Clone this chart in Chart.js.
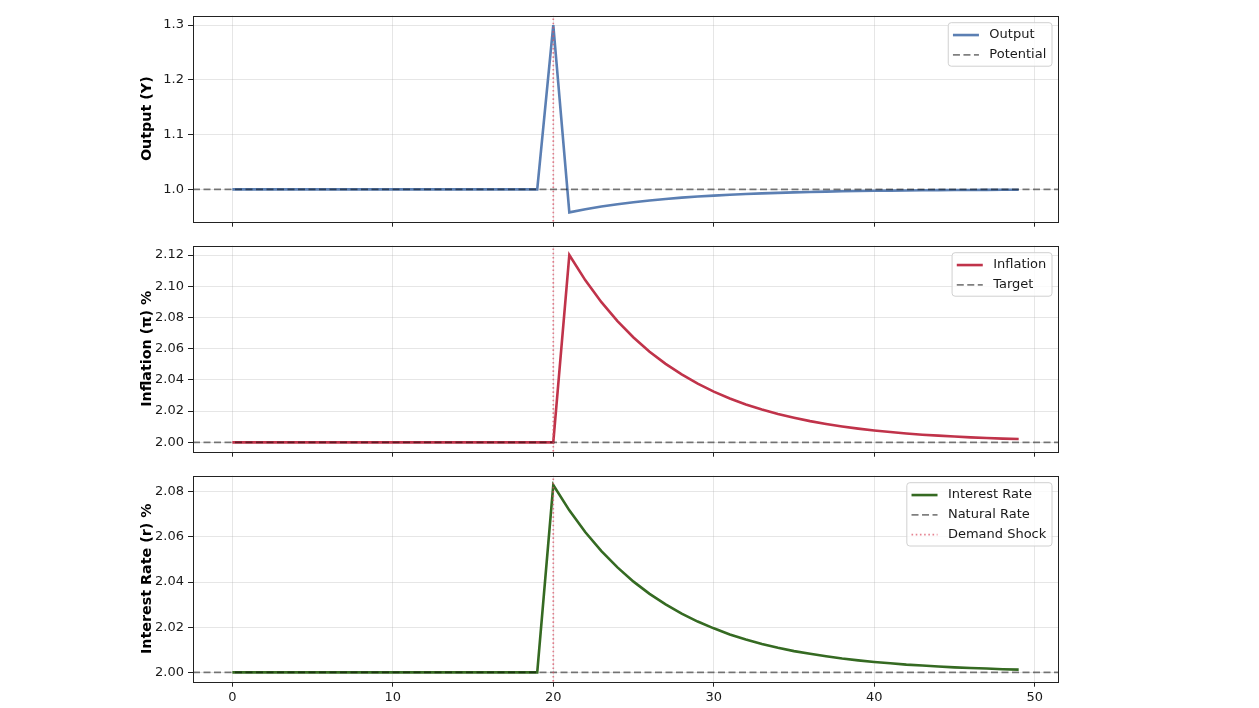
<!DOCTYPE html>
<html>
<head>
<meta charset="utf-8">
<script src="https://cdn.jsdelivr.net/npm/chart.js@4.4.0/dist/chart.umd.min.js"></script>
<style>
  html, body { margin: 0; padding: 0; background: #fff; }
  body { width: 1259px; height: 708px; position: relative; overflow: hidden; }
  canvas { position: absolute; left: 0; }
</style>
</head>
<body>
<canvas id="c1" width="1259" height="234" style="top:0px"></canvas>
<canvas id="c2" width="1259" height="234" style="top:230px"></canvas>
<canvas id="c3" width="1259" height="248" style="top:460px"></canvas>
<script>
// periods
const periods = [0,1,2,3,4,5,6,7,8,9,10,11,12,13,14,15,16,17,18,19,20,21,22,23,24,
  25,26,27,28,29,30,31,32,33,34,35,36,37,38,39,40,41,42,43,44,45,46,47,48,49];

// output (Y)
const outputValues = [1,1,1,1,1,1,1,1,1,1,1,1,1,1,1,1,1,1,1,1,
  1.300, 0.958, 0.9637, 0.9686, 0.9728, 0.9765, 0.9797, 0.9824, 0.9848, 0.9868,
  0.9886, 0.9902, 0.9915, 0.9926, 0.9936, 0.9945, 0.9952, 0.9959, 0.9964, 0.9969,
  0.9973, 0.9977, 0.9980, 0.9983, 0.9985, 0.9987, 0.9989, 0.9990, 0.9992, 0.9993];

// inflation (pi) %
const inflationValues = [2,2,2,2,2,2,2,2,2,2,2,2,2,2,2,2,2,2,2,2,2,
  2.1200, 2.1038, 2.0898, 2.0777, 2.0672, 2.0581, 2.0503, 2.0435, 2.0376, 2.0325,
  2.0281, 2.0243, 2.0211, 2.0182, 2.0158, 2.0136, 2.0118, 2.0102, 2.0088, 2.0076,
  2.0066, 2.0057, 2.0049, 2.0043, 2.0037, 2.0032, 2.0028, 2.0024, 2.0021];

// interest rate (r) %
const rateValues = [2,2,2,2,2,2,2,2,2,2,2,2,2,2,2,2,2,2,2,2,
  2.0830, 2.0718, 2.0621, 2.0537, 2.0465, 2.0402, 2.0348, 2.0301, 2.0260, 2.0225,
  2.0195, 2.0168, 2.0146, 2.0126, 2.0109, 2.0094, 2.0082, 2.0071, 2.0061, 2.0053,
  2.0046, 2.0040, 2.0034, 2.0030, 2.0026, 2.0022, 2.0019, 2.0017, 2.0014, 2.0012];

// reference levels
const potentialLevel = 1.0;
const targetLevel = 2.0;
const naturalRate = 2.0;
const shockPeriod = 20;

// axes
const xLimits = [-2.45, 51.45];
const xTicks = [0, 10, 20, 30, 40, 50];
const yLimits1 = [0.9409, 1.3171];
const yTicks1 = [1.0, 1.1, 1.2, 1.3];
const yLimits2 = [1.994, 2.126];
const yTicks2 = [2.00, 2.02, 2.04, 2.06, 2.08, 2.10, 2.12];
const yLimits3 = [1.99585, 2.08715];
const yTicks3 = [2.00, 2.02, 2.04, 2.06, 2.08];

const FONT = 'DejaVu Sans';

// frame round the plot area, like matplotlib spines
const framePlugin = {
  id: 'frame',
  afterDraw(chart) {
    const a = chart.chartArea, ctx = chart.ctx;
    ctx.save();
    ctx.strokeStyle = '#222';
    ctx.lineWidth = 1;
    ctx.strokeRect(Math.round(a.left) + 0.5, Math.round(a.top) + 0.5,
      Math.round(a.right - a.left), Math.round(a.bottom - a.top));
    ctx.restore();
  }
};

// legend box in the upper right corner
const boxLegendPlugin = {
  id: 'boxLegend',
  afterDraw(chart) {
    const items = chart.data.datasets.filter(d => d.inLegend);
    if (!items.length) return;
    const ctx = chart.ctx, a = chart.chartArea;
    const fs = 13;
    ctx.save();
    ctx.font = fs + 'px "' + FONT + '"';
    const tw = Math.max(...items.map(d => ctx.measureText(d.label).width));
    const pad = 5.2, handle = 26, gap = 10.4, rowH = 13.3, spacing = 6.5;
    const w = pad + handle + gap + tw + pad;
    const h = pad * 2 + rowH * items.length + spacing * (items.length - 1);
    const x = a.right - 6.5 - w, y = a.top + 6.5;
    ctx.beginPath();
    ctx.roundRect(x + 0.5, y + 0.5, w, h, 3);
    ctx.fillStyle = 'rgba(255,255,255,0.8)';
    ctx.fill();
    ctx.strokeStyle = '#d0d0d0';
    ctx.lineWidth = 1;
    ctx.stroke();
    items.forEach((d, i) => {
      const cy = y + pad + rowH / 2 + i * (rowH + spacing) + 1;
      ctx.beginPath();
      ctx.setLineDash(d.borderDash || []);
      ctx.strokeStyle = d.borderColor;
      ctx.lineWidth = d.borderWidth;
      ctx.moveTo(x + pad, cy);
      ctx.lineTo(x + pad + handle, cy);
      ctx.stroke();
      ctx.setLineDash([]);
      ctx.fillStyle = '#1a1a1a';
      ctx.textBaseline = 'middle';
      ctx.fillText(d.label, x + pad + handle + gap, cy);
    });
    ctx.restore();
  }
};

function pts(xs, ys) {
  return xs.map((x, i) => ({x: x, y: ys[i]}));
}

function makePanel(id, opts) {
  const datasets = [
    {
      label: opts.label, data: pts(periods, opts.values),
      borderColor: opts.color, borderWidth: 2.6, order: 3, inLegend: true
    },
    {
      label: opts.refLabel, data: pts(xLimits, [opts.refLevel, opts.refLevel]),
      borderColor: 'rgba(0,0,0,0.5)', borderWidth: 1.8, borderDash: [7, 3.5], order: 2, inLegend: true
    },
    {
      label: 'Demand Shock', data: pts([shockPeriod, shockPeriod], opts.yLimits),
      borderColor: 'rgba(220,80,100,0.7)', borderWidth: 1.7, borderDash: [1.6, 2.6], order: 1,
      inLegend: opts.showShock
    }
  ];
  return new Chart(document.getElementById(id), {
    type: 'line',
    data: { datasets: datasets },
    options: {
      responsive: false,
      animation: false,
      devicePixelRatio: 1,
      elements: { point: { radius: 0 }, line: { tension: 0, borderJoinStyle: 'miter', fill: false } },
      layout: { padding: { left: 0, right: 201, top: 15.7, bottom: 0 } },
      plugins: { legend: { display: false }, tooltip: { enabled: false } },
      scales: {
        x: {
          type: 'linear', min: xLimits[0], max: xLimits[1],
          afterBuildTicks: s => { s.ticks = xTicks.map(v => ({value: v})); },
          afterFit: s => { s.height = opts.xHeight; },
          grid: { color: 'rgba(176,176,176,0.32)', lineWidth: 1, drawTicks: true, tickLength: 5,
                  tickColor: '#222', tickWidth: 1 },
          border: { display: false },
          ticks: { display: opts.showXLabels, padding: 3, color: '#1a1a1a',
                   font: { family: FONT, size: 13 }, maxRotation: 0,
                   callback: v => String(v) }
        },
        y: {
          type: 'linear', min: opts.yLimits[0], max: opts.yLimits[1],
          afterBuildTicks: s => { s.ticks = opts.yTicks.map(v => ({value: v})); },
          afterFit: s => { s.width = 193; },
          grid: { color: 'rgba(176,176,176,0.32)', lineWidth: 1, drawTicks: true, tickLength: 5,
                  tickColor: '#222', tickWidth: 1 },
          border: { display: false },
          ticks: { padding: 4, color: '#1a1a1a', font: { family: FONT, size: 13 },
                   callback: v => Number(v).toFixed(opts.decimals) },
          title: { display: true, text: opts.yTitle, color: '#000',
                   font: { family: FONT, size: 14.3, weight: 'bold' },
                   padding: { top: 139, bottom: 0 } }
        }
      }
    },
    plugins: [framePlugin, boxLegendPlugin]
  });
}

makePanel('c1', {
  label: 'Output', values: outputValues, color: '#5b7fb3',
  refLabel: 'Potential', refLevel: potentialLevel,
  yLimits: yLimits1, yTicks: yTicks1, decimals: 1, yTitle: 'Output (Y)',
  showShock: false, showXLabels: false, xHeight: 12.3
});
makePanel('c2', {
  label: 'Inflation', values: inflationValues, color: '#c0334a',
  refLabel: 'Target', refLevel: targetLevel,
  yLimits: yLimits2, yTicks: yTicks2, decimals: 2, yTitle: 'Inflation (π) %',
  showShock: false, showXLabels: false, xHeight: 12.3
});
makePanel('c3', {
  label: 'Interest Rate', values: rateValues, color: '#356a22',
  refLabel: 'Natural Rate', refLevel: naturalRate,
  yLimits: yLimits3, yTicks: yTicks3, decimals: 2, yTitle: 'Interest Rate (r) %',
  showShock: true, showXLabels: true, xHeight: 26.3
});
</script>
</body>
</html>
